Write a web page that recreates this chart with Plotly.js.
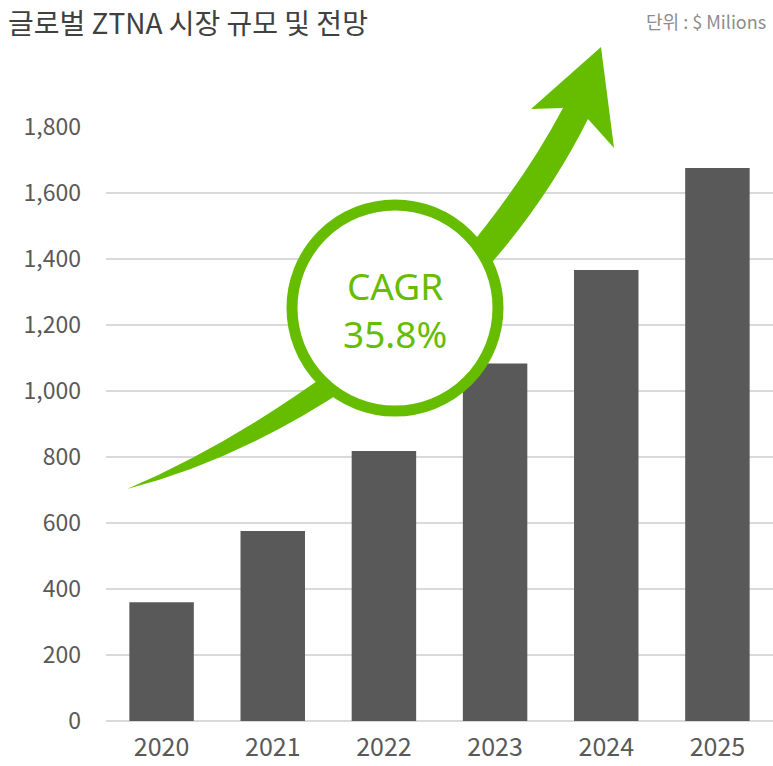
<!DOCTYPE html>
<html><head><meta charset="utf-8">
<script src="https://cdn.plot.ly/plotly-3.0.1.min.js"></script>
<style>html,body{margin:0;padding:0;background:#fff}</style>
</head><body><div id="chart" style="width:773px;height:766px"></div>
<script>
const years = ['2020','2021','2022','2023','2024','2025'];
const marketSize = [360, 576, 818, 1083, 1367, 1676];
const yTicks = [0,200,400,600,800,1000,1200,1400,1600,1800];
const yTickText = ['0','200','400','600','800','1,000','1,200','1,400','1,600','1,800'];
const titleText = '글로벌 ZTNA 시장 규모 및 전망';
const unitText = '단위 : $ Milions';
const cagrText = 'CAGR<br>35.8%';

const W = 773, H = 766, ML = 106, MR = 0, MT = 127, MB = 45;
const PW = W - ML - MR, PH = H - MT - MB;
const green = '#66bd00';
function px(x){ return ((x - ML) / PW).toFixed(5); }
function py(y){ return ((H - MB - y) / PH).toFixed(5); }
function P(x,y){ return px(x) + ',' + py(y); }

const lowerArrow = 'M' + P(127,489) + ' Q' + P(230,445) + ' ' + P(335,368) +
  ' L' + P(352,385) + ' Q' + P(240,460) + ' ' + P(127,489) + ' Z';
const upperArrow = 'M' + P(460,258) + ' Q' + P(525,180) + ' ' + P(563,108) +
  ' L' + P(531,109) + ' L' + P(601,47) + ' L' + P(614,148) + ' L' + P(588,119) +
  ' Q' + P(545,205) + ' ' + P(478,278) + ' Z';

const data = [{
  type: 'bar', x: years, y: marketSize,
  marker: {color: '#595959'}, width: 0.58,
  hoverinfo: 'skip'
}];

const layout = {
  width: W, height: H,
  margin: {l: ML, r: MR, t: MT, b: MB},
  paper_bgcolor: '#fff', plot_bgcolor: '#fff',
  showlegend: false,
  font: {family: '"Noto Sans CJK KR", "Noto Sans", sans-serif', color: '#595959'},
  title: {
    text: titleText, xref: 'container', yref: 'container',
    x: 8 / W, xanchor: 'left', y: 1 - 24 / H, yanchor: 'middle',
    font: {size: 28, color: '#404040', family: '"Noto Sans CJK KR", sans-serif'}
  },
  xaxis: {
    type: 'category', showgrid: false, zeroline: false, showline: false,
    ticks: '', ticklabelstandoff: 9,
    tickfont: {size: 25, color: '#595959', family: '"Noto Sans CJK KR", sans-serif'}
  },
  yaxis: {
    range: [0, 1800], tickvals: yTicks, ticktext: yTickText,
    showgrid: true, gridcolor: '#d9d9d9', gridwidth: 2,
    zeroline: true, zerolinecolor: '#d9d9d9', zerolinewidth: 2,
    showline: false, ticks: '', ticklabelstandoff: 24,
    tickfont: {size: 23, color: '#595959', family: '"Noto Sans CJK KR", sans-serif'}
  },
  bargap: 0.42,
  shapes: [
    {type: 'path', xref: 'paper', yref: 'paper', path: lowerArrow, fillcolor: green, line: {width: 0}, layer: 'above'},
    {type: 'path', xref: 'paper', yref: 'paper', path: upperArrow, fillcolor: green, line: {width: 0}, layer: 'above'},
    {type: 'circle', xref: 'paper', yref: 'paper', x0: px(395-103), x1: px(395+103), y0: py(308+103), y1: py(308-103),
     fillcolor: '#ffffff', line: {color: green, width: 11}, layer: 'above'}
  ],
  annotations: [
    {text: unitText, xref: 'paper', yref: 'paper', x: px(768), y: py(21), xanchor: 'right', yanchor: 'middle',
     showarrow: false, font: {size: 18, color: '#8c8c8c', family: '"Noto Sans CJK KR", sans-serif'}},
    {text: cagrText, xref: 'paper', yref: 'paper', x: px(395), y: py(310), xanchor: 'center', yanchor: 'middle',
     showarrow: false, font: {size: 37, color: green, family: '"Noto Sans", sans-serif'}}
  ]
};

Plotly.newPlot('chart', data, layout, {displayModeBar: false, staticPlot: true});
</script></body></html>
